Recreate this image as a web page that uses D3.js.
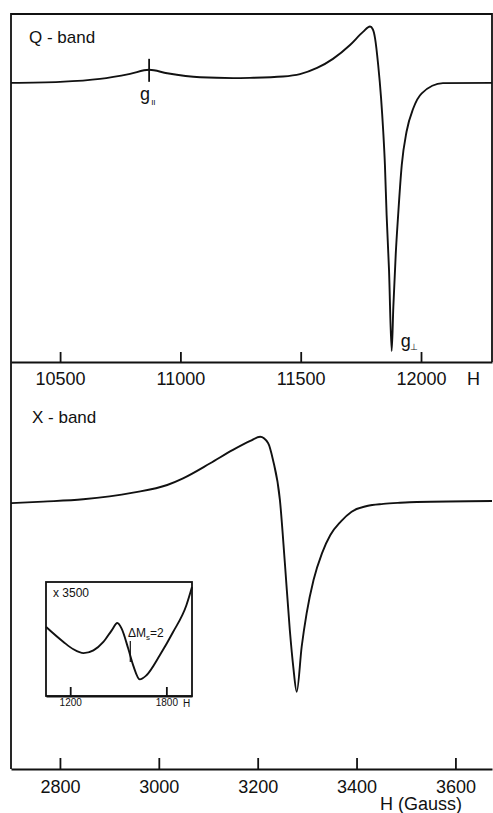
<!DOCTYPE html>
<html>
<head>
<meta charset="utf-8">
<script src="https://cdn.jsdelivr.net/npm/d3@7"></script>
<style>
  body { margin: 0; background: #fff; }
  svg text { font-family: "Liberation Sans", Arial, sans-serif; fill: #111; }
  .curve { fill: none; stroke: #111; stroke-width: 1.9; stroke-linejoin: round; }
  .frame { fill: none; stroke: #111; stroke-width: 1.8; }
  .axis path, .axis line { stroke: #111; stroke-width: 1.8; }
  .axis text { fill: #111; }
</style>
</head>
<body>
<div id="chart"></div>
<script>
// Q-band spectrum (field in gauss, derivative signal, arbitrary units)
const qField = [10296, 10500, 10666, 10791, 10870, 10945, 11082, 11219, 11289, 11426, 11497, 11568, 11634, 11705, 11759, 11788, 11800, 11809, 11822, 11834, 11843, 11850, 11857, 11867, 11878, 11885, 11895, 11905, 11920, 11940, 11968, 12003, 12091, 12295];
const qSignal = [0, 0.004, 0.015, 0.034, 0.049, 0.036, 0.021, 0.018, 0.019, 0.024, 0.033, 0.056, 0.090, 0.142, 0.191, 0.211, 0.200, 0.167, 0.067, -0.057, -0.182, -0.307, -0.494, -0.700, -1.004, -0.838, -0.640, -0.494, -0.307, -0.182, -0.095, -0.039, -0.001, 0];
const qTicks = [10500, 11000, 11500, 12000];

// X-band spectrum
const xField = [2701, 2766, 2847, 2948, 3017, 3049, 3104, 3150, 3185, 3205, 3221, 3231, 3245, 3255, 3265, 3272, 3279, 3289, 3299, 3313, 3330, 3347, 3368, 3390, 3421, 3454, 3488, 3522, 3674];
const xSignal = [-0.006, 0.002, 0.014, 0.049, 0.089, 0.124, 0.203, 0.273, 0.320, 0.342, 0.309, 0.220, 0.010, -0.320, -0.671, -0.864, -0.995, -0.759, -0.584, -0.409, -0.269, -0.173, -0.103, -0.051, -0.021, -0.010, -0.004, 0.0, 0.005];
const xTicks = [2800, 3000, 3200, 3400, 3600];

// half-field (ΔMs = 2) region, x3500
const insetField = [1050, 1158, 1220, 1283, 1345, 1407, 1459, 1494, 1521, 1562, 1593, 1634, 1676, 1759, 1842, 1925, 1960];
const insetSignal = [0.605, 0.474, 0.410, 0.376, 0.400, 0.474, 0.576, 0.640, 0.591, 0.416, 0.269, 0.146, 0.182, 0.357, 0.561, 0.796, 0.956];
const insetTicks = [1200, 1800];

const gParField = 10870, gPerpField = 11878, dMsField = 1575;

const width = 493, height = 813;
const left = 11, right = 492;
const qTop = 14, qBottom = 362, xBottom = 769;

let svg = d3.select('#chart').append('svg')
  .attr('width', width)
  .attr('height', height);

let xQ = d3.scaleLinear().domain([10296, 12295]).range([left, right]);
let yQ = d3.scaleLinear().domain([-1.045, 0.258]).range([qBottom, qTop]);
let xX = d3.scaleLinear().domain([2701, 3674]).range([left, right]);
let yX = d3.scaleLinear().domain([-1.4, 0.734]).range([xBottom, qBottom]);

let line = (sx, sy) => d3.line().x(d => sx(d[0])).y(d => sy(d[1])).curve(d3.curveMonotoneX);

// frame: top line, right edge of Q panel, long left edge
svg.append('path').attr('class', 'frame')
  .attr('d', "M" + left + "," + xBottom + " V" + qTop + " H" + right + " V" + qBottom);

// Q-band axis
let qAxis = svg.append('g').attr('class', 'axis')
  .attr('transform', 'translate(0,' + qBottom + ')')
  .call(d3.axisBottom(xQ).tickValues(qTicks).tickFormat(d3.format('d')).tickSizeInner(-10).tickSizeOuter(0).tickPadding(10));
qAxis.selectAll('text').attr('font-size', 18).style('font-family', '"Liberation Sans", Arial, sans-serif');
svg.append('text').attr('x', 467).attr('y', 385).attr('font-size', 18).text('H');

svg.append('path').attr('class', 'curve')
  .attr('d', line(xQ, yQ)(d3.zip(qField, qSignal)));

svg.append('text').attr('x', 29).attr('y', 43).attr('font-size', 17).text('Q - band');

// g parallel marker
let gx = xQ(gParField), gy = yQ(0.049);
svg.append('line').attr('x1', gx).attr('x2', gx).attr('y1', gy - 11).attr('y2', gy + 12)
  .attr('stroke', '#111').attr('stroke-width', 1.8);
let gPar = svg.append('text').attr('x', gx - 9).attr('y', gy + 30).attr('font-size', 18);
gPar.append('tspan').text('g');
gPar.append('tspan').attr('font-size', 8).attr('dy', 5).attr('dx', 1).text('II');

let gPerp = svg.append('text').attr('x', xQ(gPerpField) + 9).attr('y', yQ(-1.004) - 4).attr('font-size', 18);
gPerp.append('tspan').text('g');
gPerp.append('tspan').attr('font-size', 9).attr('dy', 3).attr('dx', -1).text('⊥');

// X-band axis
let xAxis = svg.append('g').attr('class', 'axis')
  .attr('transform', 'translate(0,' + xBottom + ')')
  .call(d3.axisBottom(xX).tickValues(xTicks).tickFormat(d3.format('d')).tickSizeInner(-11).tickSizeOuter(0).tickPadding(11));
xAxis.selectAll('text').attr('font-size', 18).style('font-family', '"Liberation Sans", Arial, sans-serif');
svg.append('text').attr('x', 462).attr('y', 810).attr('font-size', 18).attr('text-anchor', 'end').text('H (Gauss)');

svg.append('path').attr('class', 'curve')
  .attr('d', line(xX, yX)(d3.zip(xField, xSignal)));

svg.append('text').attr('x', 32).attr('y', 423).attr('font-size', 17).text('X - band');

// inset
const inL = 46, inR = 192, inT = 582, inB = 696;
let xI = d3.scaleLinear().domain([1049, 1960]).range([inL, inR]);
let yI = d3.scaleLinear().domain([0, 1]).range([inB, inT]);

svg.append('rect').attr('class', 'frame')
  .attr('x', inL).attr('y', inT).attr('width', inR - inL).attr('height', inB - inT)
  .style('fill', '#fff');

let iAxis = svg.append('g').attr('class', 'axis')
  .attr('transform', 'translate(0,' + inB + ')')
  .call(d3.axisBottom(xI).tickValues(insetTicks).tickFormat(d3.format('d')).tickSizeInner(-9).tickSizeOuter(0).tickPadding(3));
iAxis.selectAll('line').attr('stroke-width', 1.4);
iAxis.selectAll('text').attr('font-size', 10).style('font-family', '"Liberation Sans", Arial, sans-serif');
svg.append('text').attr('x', 183).attr('y', 707).attr('font-size', 10).text('H');

svg.append('path').attr('class', 'curve').attr('stroke-width', 1.6)
  .attr('d', line(xI, yI)(d3.zip(insetField, insetSignal)));

svg.append('text').attr('x', 53).attr('y', 597).attr('font-size', 12).text('x 3500');

let mx = xI(dMsField);
svg.append('line').attr('x1', mx).attr('x2', mx).attr('y1', 641).attr('y2', 662)
  .attr('stroke', '#111').attr('stroke-width', 1.2);
let dMs = svg.append('text').attr('x', 128).attr('y', 637).attr('font-size', 12);
dMs.append('tspan').text('ΔM');
dMs.append('tspan').attr('font-size', 8).attr('dy', 3).text('s');
dMs.append('tspan').attr('dy', -3).text('=2');
</script>
</body>
</html>
